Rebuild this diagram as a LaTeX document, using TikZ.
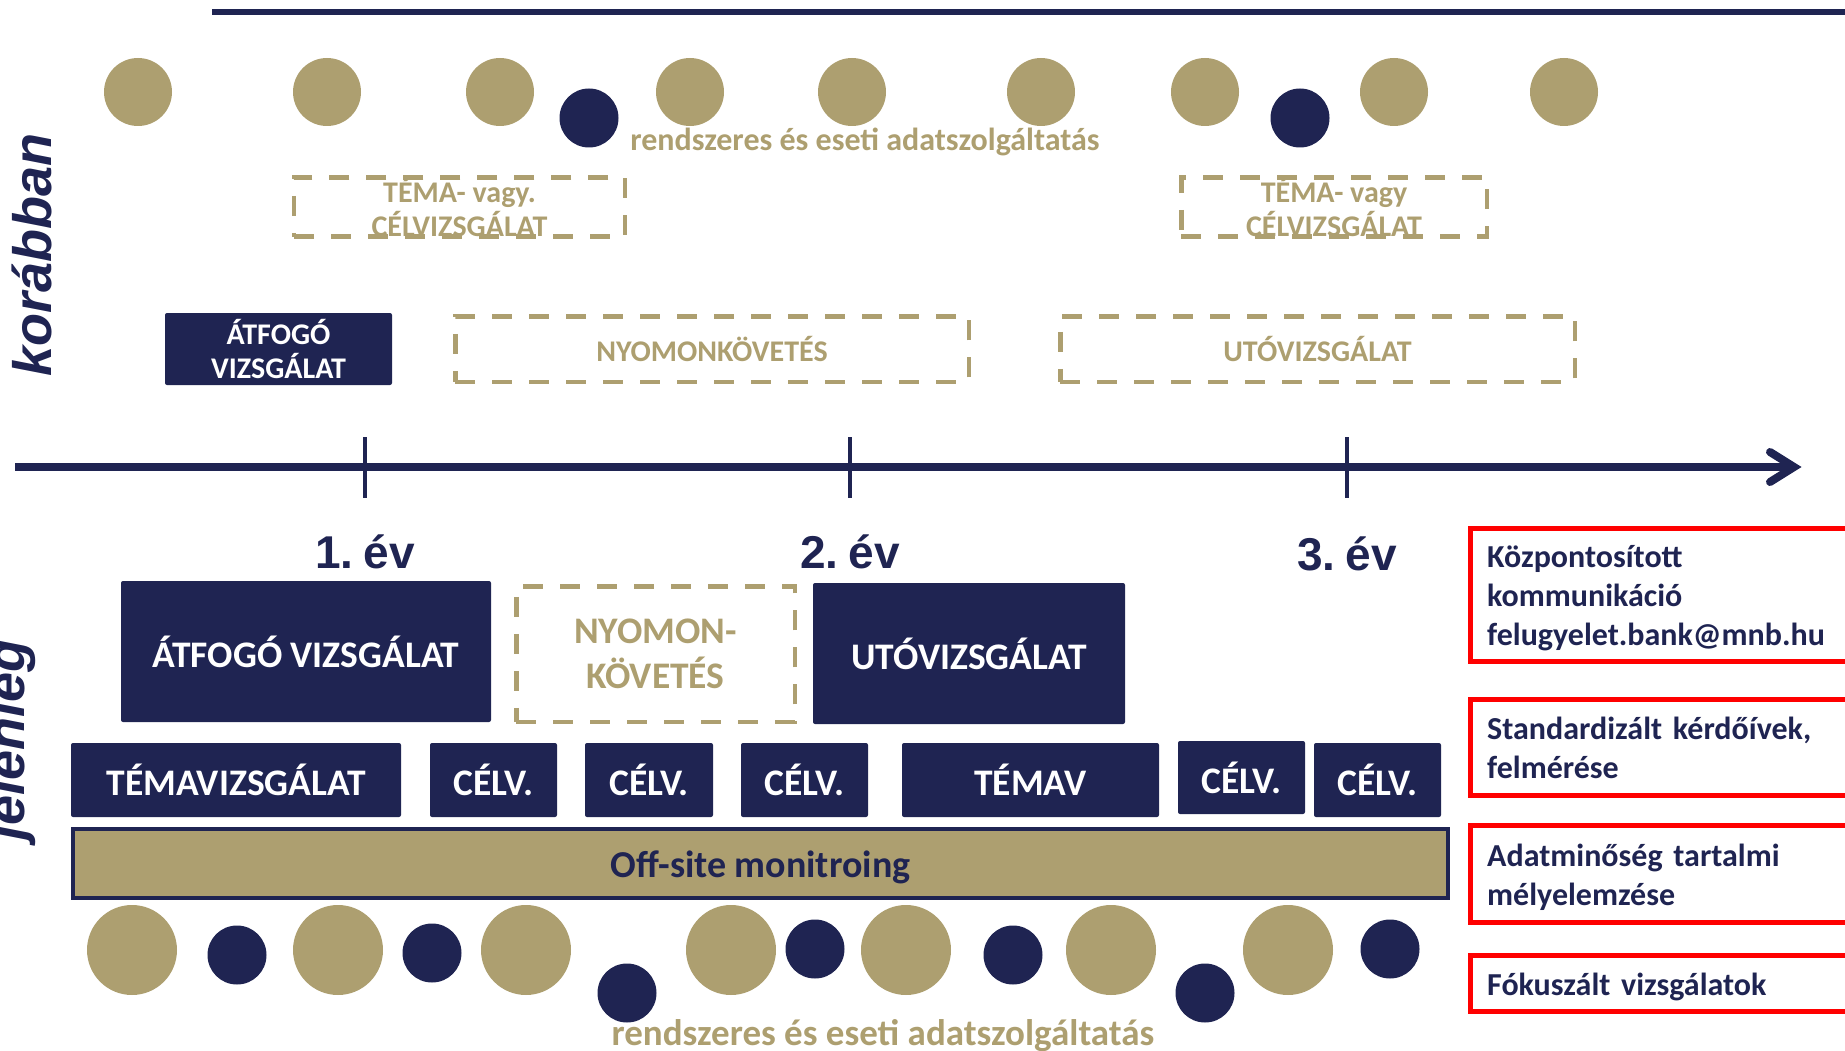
\documentclass[tikz,border=0pt]{standalone}
\usepackage{fontspec}
\newfontfamily\calfont{Carlito}
\newfontfamily\arialf{Liberation Sans}
\usetikzlibrary{arrows.meta}
\definecolor{navy}{HTML}{1F2452}
\definecolor{gold}{HTML}{AD9F70}
\definecolor{redb}{HTML}{FF0000}
\tikzset{
  navybox/.style={fill=navy, draw=none, rounded corners=2pt, text=white, inner sep=0pt, outer sep=0pt, align=center},
  dashbox/.style={draw=gold, line width=4.5pt, dash pattern=on 20pt off 17pt, text=gold, inner sep=0pt, outer sep=0pt, align=center},
  redbox/.style={draw=redb, line width=5pt, inner sep=0pt, minimum width=402.5pt, anchor=west},
  redtext/.style={text=navy, inner xsep=19.5pt, inner ysep=0pt, text width=363.5pt, align=left, anchor=west, font=\calfont\bfseries\fontsize{32}{39}\selectfont},
  goldc/.style={circle, fill=gold, inner sep=0pt, minimum size=#1},
  navyc/.style={circle, fill=navy, inner sep=0pt, minimum size=#1},
  fsmall/.style={font=\calfont\bfseries\fontsize{30}{34}\selectfont},
  fbig/.style={font=\calfont\bfseries\fontsize{37.5}{45}\selectfont},
  yearlbl/.style={font=\arialf\bfseries\fontsize{46}{50}\selectfont, text=navy, anchor=base, inner sep=0pt},
  sidelbl/.style={font=\arialf\bfseries\itshape\fontsize{54}{60}\selectfont, text=navy, rotate=90, anchor=base, inner sep=0pt},
}
\begin{document}
\begin{tikzpicture}[x=1pt,y=-1pt]
\useasboundingbox (0,0) rectangle (1845,1051);
\clip (0,0) rectangle (1845,1051);

% top rule
\coordinate (top0) at (212,12.5);
\coordinate (top1) at (1850,12.5);
\draw[navy, line width=6pt] (top0) -- (top1);

% top circles
\foreach \x [count=\i] in {138,327,500,690,852,1041,1205,1394,1564}
  \node[goldc=68pt] (tg\i) at (\x,92) {};
\node[navyc=59pt] (tn1) at (589,118) {};
\node[navyc=59pt] (tn2) at (1300,118) {};
\node[font=\calfont\bfseries\fontsize{32}{38}\selectfont, text=gold, anchor=base, inner sep=0pt] (toptxt) at (865,150.5) {rendszeres és eseti adatszolgáltatás};

% side labels
\node[sidelbl] (kor) at (51,255) {korábban};
\node[sidelbl] (jel) at (24,740) {jelenleg};

% earlier boxes
\node[dashbox, fsmall, minimum width=331pt, minimum height=52pt] (tema1) at (459.5,207) {TÉMA- vagy.\\CÉLVIZSGÁLAT};
\node[dashbox, fsmall, minimum width=305.5pt, minimum height=52pt] (tema2) at (1334,207) {TÉMA- vagy\\CÉLVIZSGÁLAT};
\node[navybox, fsmall, minimum width=227pt, minimum height=72pt] (atf1) at (278.5,349) {ÁTFOGÓ\\VIZSGÁLAT};
\node[dashbox, fsmall, minimum width=513.5pt, minimum height=65.5pt] (nyom1) at (712,349) {NYOMONKÖVETÉS};
\node[dashbox, fsmall, minimum width=514.5pt, minimum height=65.5pt] (uto1) at (1317.5,349) {UTÓVIZSGÁLAT};

% timeline
\coordinate (tl0) at (15,467);
\coordinate (tl1) at (1794,467);
\draw[navy, line width=8pt] (tl0) -- (tl1);
\coordinate (ah1) at (1770,452);
\coordinate (ah2) at (1770,482);
\draw[navy, line width=8pt, line cap=round, line join=miter] (ah1) -- (tl1) -- (ah2);
\foreach \x [count=\i] in {365,850,1347}{
  \coordinate (tk\i a) at (\x,437);
  \coordinate (tk\i b) at (\x,498);
  \draw[navy, line width=4.5pt] (tk\i a) -- (tk\i b);
}
\node[yearlbl] (y1) at (365,568) {1.\kern-3pt\ év};
\node[yearlbl] (y2) at (850,568) {2.\kern-3pt\ év};
\node[yearlbl] (y3) at (1347,570) {3.\kern-3pt\ év};

% current boxes
\node[navybox, fbig, minimum width=370pt, minimum height=141pt] (atf2) at (306,651.5) {ÁTFOGÓ VIZSGÁLAT};
\node[dashbox, fbig, minimum width=278.5pt, minimum height=135.5pt] (nyom2) at (655.5,654) {NYOMON-\\KÖVETÉS};
\node[navybox, fbig, minimum width=312pt, minimum height=141pt] (uto2) at (969,653.5) {UTÓVIZSGÁLAT};

\node[navybox, fbig, minimum width=330pt, minimum height=74pt] (tv1) at (236,780) {TÉMAVIZSGÁLAT};
\node[navybox, fbig, minimum width=127pt, minimum height=74pt] (c1) at (493.5,780) {CÉLV.};
\node[navybox, fbig, minimum width=128pt, minimum height=74pt] (c2) at (649,780) {CÉLV.};
\node[navybox, fbig, minimum width=127pt, minimum height=74pt] (c3) at (804.5,780) {CÉLV.};
\node[navybox, fbig, minimum width=257pt, minimum height=74pt] (tv2) at (1030.5,780) {TÉMAV};
\node[navybox, fbig, minimum width=127pt, minimum height=73pt] (c4) at (1241.5,777.5) {CÉLV.};
\node[navybox, fbig, minimum width=127pt, minimum height=74pt] (c5) at (1377.5,780) {CÉLV.};

\node[fill=gold, draw=navy, line width=4pt, minimum width=1375pt, minimum height=69pt, inner sep=0pt] (off) at (760.5,863.5) {};
\node[font=\calfont\bfseries\fontsize{38}{44}\selectfont, text=navy, inner sep=0pt] (offlbl) at (760.5,867) {Off-site monitroing};

% bottom circles
\foreach \x [count=\i] in {132,338,526,731,906,1111,1288}
  \node[goldc=90pt] (bg\i) at (\x,950) {};
\foreach \x/\y [count=\i] in {237/955,432/953,627/993,815/949,1013/955,1205/993,1390/949}
  \node[navyc=59pt] (bn\i) at (\x,\y) {};
\node[font=\calfont\bfseries\fontsize{37}{42}\selectfont, text=gold, anchor=base, inner sep=0pt] (bottxt) at (883,1045) {rendszeres és eseti adatszolgáltatás};

% red boxes
\node[redbox, minimum height=133pt] (r1) at (1467.5,594.5) {};
\node[redbox, minimum height=95.5pt] (r2) at (1467.5,747.25) {};
\node[redbox, minimum height=96.5pt] (r3) at (1467.5,873.75) {};
\node[redbox, minimum height=56pt] (r4) at (1467.5,983) {};
\node[redtext] (r1t) at ([yshift=-3.5pt]r1.west) {Központosított\\kommunikáció\\felugyelet.bank@mnb.hu};
\node[redtext] (r2t) at ([yshift=-1pt]r2.west) {Standardizált kérdőívek,\\felmérése};
\node[redtext] (r3t) at ([yshift=-4pt]r3.west) {Adatminőség tartalmi\\mélyelemzése};
\node[redtext] (r4t) at ([yshift=-4pt]r4.west) {Fókuszált vizsgálatok};
\end{tikzpicture}
\end{document}
